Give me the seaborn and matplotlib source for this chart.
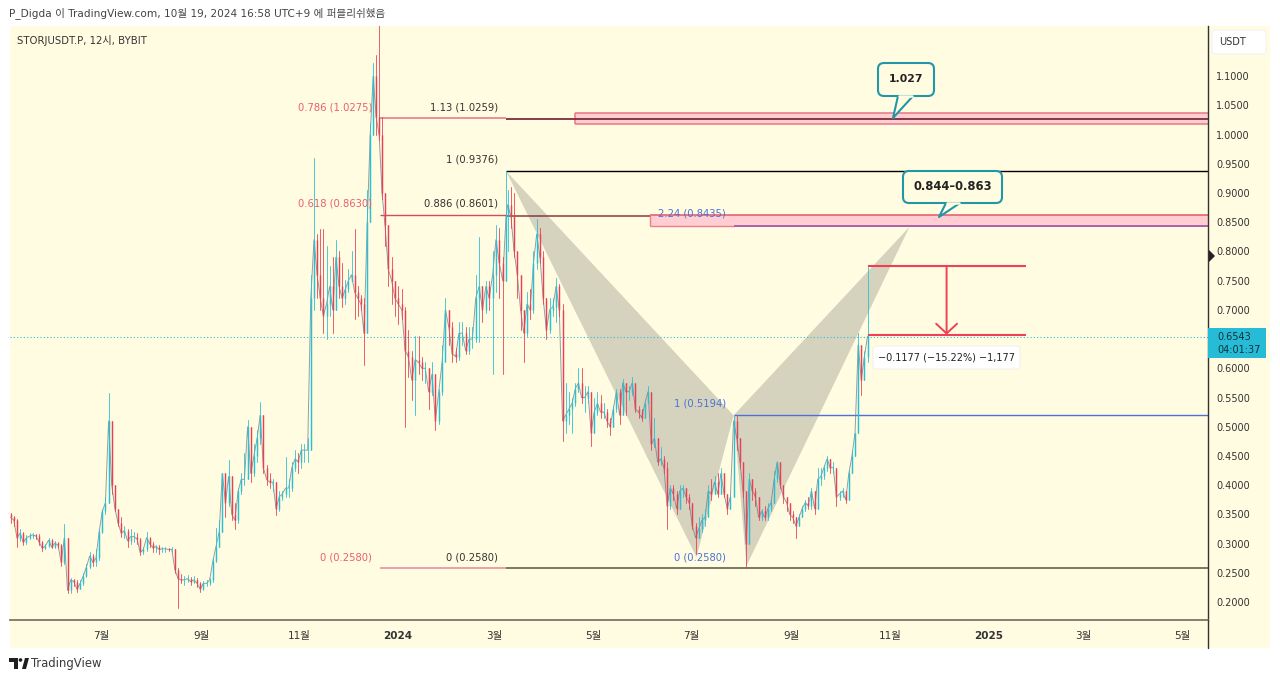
import numpy as np
import pandas as pd
import seaborn as sns
import matplotlib
matplotlib.use("Agg")
import matplotlib.pyplot as plt
import matplotlib.dates as mdates
from matplotlib.patches import FancyBboxPatch, Polygon, Rectangle, Circle
from matplotlib.lines import Line2D
from matplotlib.transforms import Affine2D

# candles as (close, high, low) per stretch of the chart
bars_a = [(.345,.352,.335),(.340,.348,.330),(.310,.342,.295),(.318,.325,.305),(.302,.320,.298),(.310,.315,.300),
(.313,.318,.308),(.315,.318,.310),(.313,.317,.308),(.303,.316,.298),(.292,.305,.288),(.296,.300,.290),
(.306,.310,.294),(.294,.308,.292),(.301,.305,.292),(.297,.303,.292),(.268,.300,.262),(.310,.3335,.265),
(.220,.310,.215),(.238,.242,.216),(.235,.240,.228),(.222,.238,.218),(.232,.238,.222),(.245,.250,.230),
(.260,.265,.243),(.279,.285,.258),(.268,.282,.262),(.275,.290,.262),(.320,.325,.272),(.355,.360,.318),
(.370,.380,.350),(.510,.557,.370),(.400,.445,.385),(.360,.400,.355),(.335,.352,.330),(.318,.345,.312),
(.322,.330,.310),(.305,.325,.295),(.312,.325,.300),(.312,.320,.303),(.308,.318,.300),(.285,.310,.280),
(.290,.295,.283),(.310,.320,.288),(.300,.312,.295),(.293,.303,.285),(.295,.298,.285),(.290,.297,.283),
(.291,.295,.285),(.291,.295,.285),(.290,.293,.287),(.290,.295,.285),(.255,.290,.250),(.240,.258,.190),
(.238,.248,.232),(.238,.245,.230),(.240,.246,.235),(.235,.243,.230),(.238,.245,.232),(.232,.242,.225),
(.222,.235,.218),(.232,.236,.220),(.232,.238,.228),(.238,.242,.230),(.270,.275,.235),(.295,.326,.268),
(.320,.340,.300),(.420,.420,.320),(.370,.420,.345),(.415,.443,.365),(.350,.415,.340),(.340,.370,.325),
(.390,.395,.335),(.410,.420,.385),(.410,.455,.400),(.500,.5115,.410),(.420,.500,.405),(.450,.470,.415),
(.480,.494,.440),(.520,.543,.470),(.430,.520,.420),(.410,.435,.400),(.405,.420,.395),(.405,.410,.390),
(.360,.405,.349),(.380,.390,.355),(.385,.390,.375),(.395,.449,.380),(.395,.410,.380),(.430,.440,.390),
(.445,.460,.425),(.440,.455,.420),(.460,.470,.430),(.460,.470,.440),(.460,.480,.440),(.720,.760,.460)]
bars_b = [(.82,.959,.70),(.76,.83,.72),(.72,.838,.70),(.69,.838,.66),(.71,.81,.65),(.74,.775,.69),(.70,.79,.66),
(.79,.82,.71),(.74,.80,.72),(.72,.78,.705),(.735,.751,.71),(.75,.77,.73),(.76,.80,.75),(.73,.838,.685),
(.72,.74,.69),(.71,.725,.70),(.66,.72,.605)]
bars_c = [(.85,.905,.66),(1.00,1.02,.85),(1.10,1.122,1.0),(1.03,1.136,1.0),(1.0,1.21,.99),(.90,1.03,.89),(.845,.885,.81)]
bars_d = [(.77,.845,.74),(.75,.79,.71),(.72,.75,.69),(.71,.74,.675),(.70,.735,.685),(.63,.705,.50),(.62,.665,.585),
(.58,.63,.545),(.615,.655,.52),(.61,.655,.59),(.60,.62,.58),(.60,.61,.575),(.56,.60,.53),(.59,.61,.555),
(.51,.59,.495),(.56,.565,.505),(.61,.64,.555),(.70,.72,.61),(.67,.70,.64),(.625,.68,.61),(.62,.635,.61),
(.66,.68,.615),(.66,.68,.64),(.63,.67,.625),(.65,.67,.625),(.65,.67,.635),(.72,.76,.645),(.74,.825,.645),
(.70,.74,.68),(.74,.75,.695),(.72,.75,.70),(.76,.80,.59),(.82,.845,.73),(.78,.84,.72),(.75,.79,.59),(.86,.9376,.75)]
bars_e = [(.88,.905,.80),(.86,.91,.84),(.80,.90,.79),(.76,.80,.72),(.70,.76,.665),(.66,.70,.61),(.71,.73,.655),
(.70,.735,.685),(.78,.80,.695),(.83,.855,.77),(.79,.84,.78),(.72,.80,.71),(.665,.72,.65),(.70,.72,.66),
(.705,.72,.69),(.74,.755,.68),(.70,.745,.69),(.51,.71,.475)]
bars_f = [(.52,.575,.49),(.53,.56,.505),(.54,.55,.49),(.565,.575,.535),(.575,.60,.56),(.55,.60,.54),(.55,.57,.525),
(.56,.57,.54),(.49,.55,.467),(.525,.55,.49),(.54,.56,.52),(.525,.555,.515),(.525,.54,.515),(.51,.53,.50),
(.50,.515,.485),(.53,.535,.50),(.56,.565,.525),(.52,.565,.505),(.575,.582,.52),(.56,.575,.52),(.56,.57,.545),
(.575,.585,.555),(.53,.575,.525),(.525,.535,.515),(.515,.53,.51),(.54,.54,.515),(.56,.57,.54),(.47,.555,.46),
(.48,.515,.465),(.44,.47,.435),(.445,.465,.435),(.43,.45,.42),(.365,.44,.325),(.395,.40,.36),(.385,.40,.375),
(.36,.39,.35),(.39,.40,.36),(.395,.40,.38),(.38,.39,.37),(.37,.385,.36),(.33,.37,.325),(.31,.335,.283),
(.325,.345,.31),(.34,.35,.32),(.345,.36,.33),(.39,.40,.345),(.385,.41,.375),(.405,.415,.385),(.385,.42,.38),
(.42,.43,.385),(.385,.41,.38),(.36,.385,.35),(.38,.385,.36),(.51,.519,.38)]
bars_g = [(.48,.519,.46),(.44,.48,.43),(.39,.44,.38),(.30,.39,.26),(.41,.42,.30),(.39,.41,.375),(.38,.395,.365),
(.345,.375,.34),(.355,.36,.34),(.345,.365,.34),(.36,.37,.34),(.37,.375,.355),(.41,.425,.37),(.44,.44,.405),
(.40,.44,.395),(.38,.40,.37),(.37,.38,.355),(.35,.37,.34),(.345,.355,.335),(.33,.345,.31),(.345,.35,.33),
(.36,.365,.345),(.37,.375,.355),(.365,.38,.36),(.39,.395,.36),(.36,.39,.35),(.41,.43,.36),(.415,.43,.40),
(.43,.435,.41),(.445,.45,.425),(.43,.445,.42),(.43,.44,.42),(.38,.43,.365),(.385,.39,.375),(.39,.395,.38),
(.375,.39,.37),(.42,.425,.375),(.45,.46,.42),(.49,.49,.45),(.64,.66,.49),(.58,.64,.555),(.62,.63,.58),(.655,.773,.61)]
spans = [("2023-05-06","2023-11-08",bars_a),("2023-11-10","2023-12-11",bars_b),("2023-12-13","2023-12-24",bars_c),
         ("2023-12-26","2024-03-08",bars_d),("2024-03-09","2024-04-12",bars_e),("2024-04-14","2024-07-27",bars_f),
         ("2024-07-29","2024-10-18",bars_g)]

month_labels = ["7월","9월","11월","2024","3월","5월","7월","9월","11월","2025","3월","5월"]
month_dates = ["2023-07-01","2023-09-01","2023-11-01","2024-01-01","2024-03-01","2024-05-01",
               "2024-07-01","2024-09-01","2024-11-01","2025-01-01","2025-03-01","2025-05-01"]
price_ticks = [.2,.25,.3,.35,.4,.45,.5,.55,.6,.7,.75,.8,.85,.9,.95,1.0,1.05,1.1]
pattern_dates = ["2024-03-08","2024-07-04","2024-07-27","2024-08-04","2024-11-13"]
pattern_prices = [.9376,.2770,.5194,.2620,.8420]

UP, DOWN = "#2BBFD4", "#EA3F55"
BG = "#FFFCE1"
TEAL = "#2196A8"
BLUE = "#4A72D8"
FIBRED = "#E8606E"

sns.set_theme(style="white")
plt.rcParams["font.family"] = ["DejaVu Sans", "Noto Sans CJK KR"]

def num(s):
    return mdates.date2num(pd.Timestamp(s))

rows, body, closes = [], [], []
prev = .35
idn = 0
for start, end, bars in spans:
    ds = mdates.date2num(pd.date_range(start, end, periods=len(bars)))
    for dx, (c, h, l) in zip(ds, bars):
        up = "up" if c >= prev else "down"
        h2, l2 = max(h, c, prev), min(l, c, prev)
        rows += [(idn, dx, h2, up), (idn, dx, l2, up)]
        body += [(idn, dx, prev, up), (idn, dx, c, up)]
        closes.append((dx, c))
        prev = c
        idn += 1
wicks = pd.DataFrame(rows, columns=["id", "x", "p", "dir"])
bodies = pd.DataFrame(body, columns=["id", "x", "p", "dir"])
close_line = pd.DataFrame(closes, columns=["x", "p"])

fig = plt.figure(figsize=(12.8, 6.81), dpi=100, facecolor="white")
px = Affine2D().scale(1 / 1280, -1 / 681).translate(0, 1) + fig.transFigure
fig.add_artist(Rectangle((10, 26), 1260, 622, transform=px, fc=BG, ec="none", zorder=-2))
ax = fig.add_axes([10 / 1280, 1 - 620 / 681, 1198 / 1280, 594 / 681], facecolor=BG)

x_left, x_right = num("2023-05-05") + .6, num("2025-05-17")
ax.set_xlim(x_left, x_right)
ax.set_ylim(.1693, 1.1857)

# harmonic pattern triangles
pd_x = [num(d) for d in pattern_dates]
ax.fill(pd_x[:3], pattern_prices[:3], color="#D5D2BE", lw=0, zorder=1)
ax.fill(pd_x[2:], pattern_prices[2:], color="#D5D2BE", lw=0, zorder=1)

# zones
ax.fill_between([num("2024-04-20"), x_right], 1.018, 1.0366, color="#FFCDD2", lw=0, zorder=1.2)
ax.hlines([1.0366, 1.018], num("2024-04-20"), x_right, color="#E9808C", lw=1.2, zorder=1.3)
ax.vlines(num("2024-04-20"), 1.018, 1.0366, color="#E9808C", lw=1.2, zorder=1.3)
ax.fill_between([num("2024-06-05"), x_right], .8435, .8630, color="#FFCDD2", lw=0, zorder=1.2)
ax.hlines(.8630, num("2024-06-05"), x_right, color="#E9606E", lw=1.2, zorder=1.3)
ax.hlines(.8435, num("2024-06-05"), num("2024-07-27"), color="#E9808C", lw=1, zorder=1.3)
ax.vlines(num("2024-06-05"), .8435, .8630, color="#E9808C", lw=1, zorder=1.3)
ax.hlines(.8435, num("2024-07-27"), x_right, color="#A763A8", lw=1.4, zorder=1.4)

# fib lines
ax.hlines(1.0275, num("2023-12-21"), num("2024-03-08"), color="#E8919B", lw=1.4, zorder=1.4)
ax.hlines(1.0259, num("2024-03-08"), x_right, color="#7A2F35", lw=1.3, zorder=1.4)
ax.hlines(.9376, num("2024-03-08"), x_right, color="black", lw=1, zorder=1.4)
ax.hlines(.8630, num("2023-12-21"), num("2024-03-08"), color="#D24C5C", lw=1, zorder=1.4)
ax.hlines(.8601, num("2024-03-08"), num("2024-06-05"), color="#8A3A3F", lw=1.1, zorder=1.4)
ax.hlines(.5194, num("2024-07-27"), x_right, color=BLUE, lw=1, zorder=1.4)
ax.hlines(.2580, num("2023-12-21"), num("2024-03-08"), color="#E8919B", lw=1.2, zorder=1.4)
ax.hlines(.2580, num("2024-03-08"), x_right, color="#55553F", lw=1.1, zorder=1.4)
ax.hlines(.6543, x_left, x_right, color=UP, lw=.8, linestyles=(0, (1, 2)), zorder=1.5)

# candles
pal = {"up": UP, "down": DOWN}
sns.lineplot(data=close_line, x="x", y="p", estimator=None, sort=False, color="#6F7F8C", lw=.7, alpha=.75,
             legend=False, ax=ax, zorder=1.9)
sns.lineplot(data=wicks, x="x", y="p", units="id", hue="dir", palette=pal, estimator=None, sort=False,
             lw=.7, legend=False, ax=ax, zorder=2, alpha=.85)
sns.lineplot(data=bodies, x="x", y="p", units="id", hue="dir", palette=pal, estimator=None, sort=False,
             lw=1.05, legend=False, ax=ax, zorder=2.1, solid_capstyle="butt")
ax.set_xlabel(""); ax.set_ylabel("")

# measure tool
mx0, mx1 = num("2024-10-18"), num("2025-01-24")
ax.hlines([.7750, .6573], mx0, mx1, color="#EF4056", lw=1.5, zorder=3)
ax.annotate("", xy=(num("2024-12-06"), .6573), xytext=(num("2024-12-06"), .7750), zorder=3,
            arrowprops=dict(arrowstyle="->,head_length=.7,head_width=.75", color="#EF4056", lw=1.4,
                            shrinkA=0, shrinkB=0, mutation_scale=10))

# axes
ax.yaxis.tick_right()
ax.set_yticks(price_ticks)
ax.set_yticklabels([f"{v:.4f}" for v in price_ticks], fontsize=7, color="#333333")
ax.set_xticks([num(d) for d in month_dates])
ax.set_xticklabels(month_labels, fontsize=7.5, color="#333333")
for lab in ax.get_xticklabels():
    if lab.get_text() in ("2024", "2025"):
        lab.set_fontweight("bold")
ax.tick_params(axis="x", length=0, pad=8)
ax.tick_params(axis="y", length=0, pad=6)
for s in ("top", "left"):
    ax.spines[s].set_visible(False)
ax.spines["bottom"].set_color("#77776A"); ax.spines["bottom"].set_linewidth(1.3)
ax.spines["right"].set_color("#333333"); ax.spines["right"].set_linewidth(1)
fig.add_artist(Line2D([1208, 1208], [620, 648], transform=px, color="#333333", lw=1))

def t(x, y, s, color="#333333", ha="left", size=7, **kw):
    fig.text(x, y, s, transform=px, color=color, ha=ha, va="center", fontsize=size, zorder=6, **kw)

# header / footer
t(9, 13, "P_Digda 이 TradingView.com, 10월 19, 2024 16:58 UTC+9 에 퍼블리쉬했음", size=7.6, color="#444444")
t(17, 40, "STORJUSDT.P, 12시, BYBIT", size=7.3, color="#333333")
t(31, 664, "TradingView", size=8.4, color="#3A3A3A")
fig.add_artist(Polygon([(9,658),(18,658),(18,669),(14,669),(14,662),(9,662)], transform=px, fc="#1E1E1E", ec="none"))
fig.add_artist(Circle((20.5,660), 1.8, transform=px, fc="#1E1E1E", ec="none"))
fig.add_artist(Polygon([(22,669),(25,658),(29,658),(26,669)], transform=px, fc="#1E1E1E", ec="none"))

# fib labels
t(372, 107, "0.786 (1.0275)", FIBRED, "right", 7.2)
t(372, 203, "0.618 (0.8630)", FIBRED, "right", 7.2)
t(372, 557, "0 (0.2580)", FIBRED, "right", 7.2)
t(498, 107, "1.13 (1.0259)", "#333333", "right", 7.2)
t(498, 159, "1 (0.9376)", "#333333", "right", 7.2)
t(498, 204, "0.886 (0.8601)", "#333333", "right", 7.2)
t(498, 557, "0 (0.2580)", "#333333", "right", 7.2)
t(726, 214, "2.24 (0.8435)", BLUE, "right", 7.2)
t(726, 403, "1 (0.5194)", BLUE, "right", 7.2)
t(726, 557, "0 (0.2580)", BLUE, "right", 7.2)

def callout(x0, y0, x1, y1, a, b, tipx, tipy, s, size):
    fig.add_artist(FancyBboxPatch((x0, y0), x1 - x0, y1 - y0, boxstyle="round,pad=0,rounding_size=6",
                                  transform=px, fc=BG, ec=TEAL, lw=1.5, zorder=4))
    fig.add_artist(Polygon([(a, y1), (tipx, tipy), (b, y1)], transform=px, fc=BG, ec="none", zorder=4.1))
    fig.add_artist(Line2D([a, tipx, b], [y1, tipy, y1], transform=px, color=TEAL, lw=1.5, zorder=4.2))
    fig.add_artist(Line2D([a + 1, b - 1], [y1, y1], transform=px, color=BG, lw=1.8, zorder=4.3))
    t((x0 + x1) / 2, (y0 + y1) / 2 - 1, s, "#222222", "center", size, fontweight="bold")

callout(878, 63, 934, 96, 898, 913, 893, 118, "1.027", 7.8)
callout(903, 171, 1002, 203, 946, 960, 939, 217, "0.844–0.863", 8.3)

# measure readout
fig.add_artist(FancyBboxPatch((873, 346), 147, 23, boxstyle="round,pad=0,rounding_size=3", transform=px,
                              fc="white", ec="#EEEEEE", lw=.6, zorder=4))
t(946.5, 357, "−0.1177 (−15.22%) −1,177", "#222222", "center", 7)

# price tag, unit box, marker
fig.add_artist(Rectangle((1208, 328), 58, 30, transform=px, fc="#26BCD7", ec="none", zorder=5))
t(1217, 337, "0.6543", "#123038", size=7)
t(1217, 350, "04:01:37", "#123038", size=7)
fig.add_artist(FancyBboxPatch((1212, 30), 54, 24, boxstyle="round,pad=0,rounding_size=3", transform=px,
                              fc="white", ec="#F0F0F0", lw=.6, zorder=4))
t(1232, 42, "USDT", "#333333", "center", 7)
fig.add_artist(Polygon([(1209, 250), (1215, 256), (1209, 262)], transform=px, fc="#222222", ec="none", zorder=5))

fig.savefig("out.png", dpi=100)
